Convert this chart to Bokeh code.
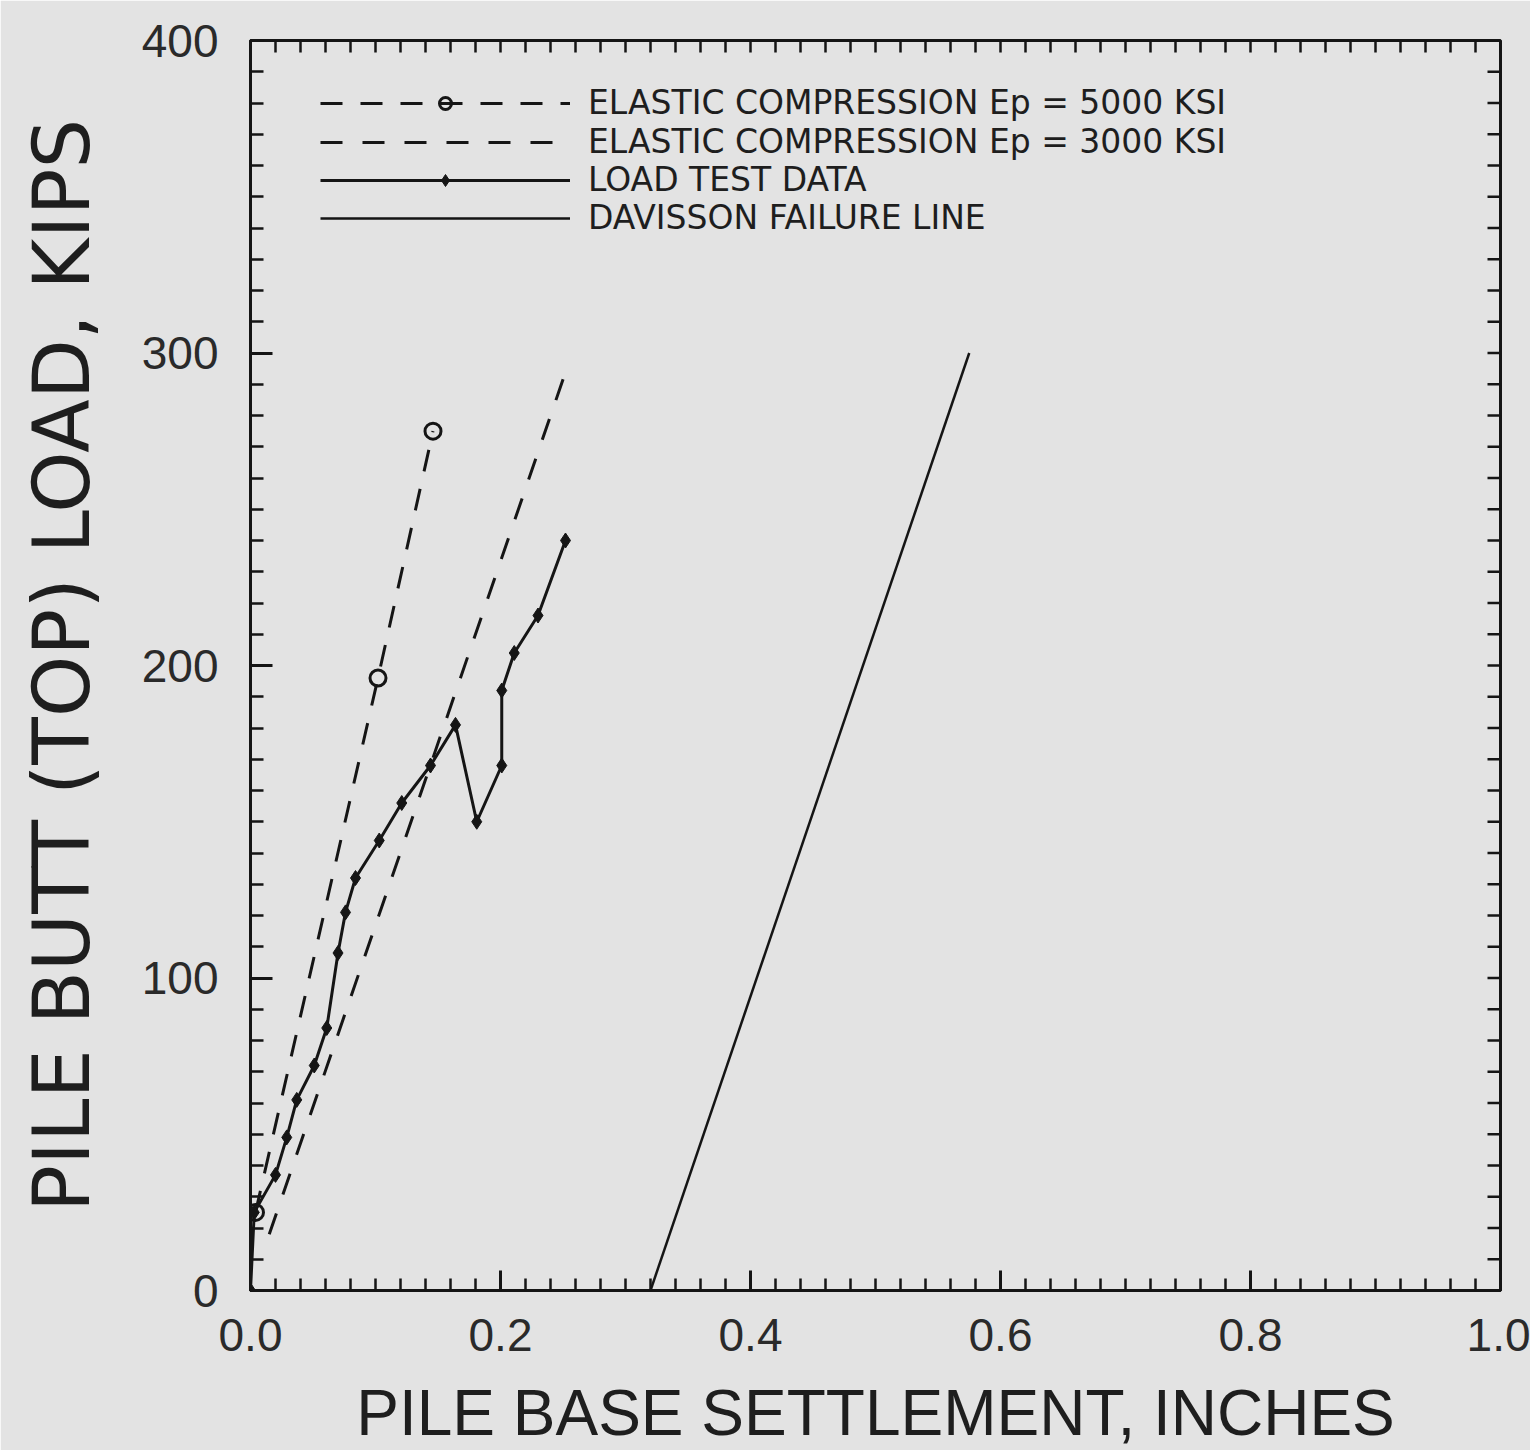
import math

from bokeh.plotting import figure
from bokeh.models import FixedTicker, NumeralTickFormatter, Legend, LegendItem, Range1d
from bokeh.embed import file_html
from bokeh.resources import INLINE

# Load test: pile base settlement (in) vs pile butt load (kips)
test_settlement = [0.0, 0.003, 0.020, 0.029, 0.037, 0.051, 0.061, 0.070, 0.076, 0.084,
                   0.103, 0.121, 0.144, 0.164, 0.181, 0.201, 0.201, 0.211, 0.230, 0.252]
test_load = [0, 25, 37, 49, 61, 72, 84, 108, 121, 132,
             144, 156, 168, 181, 150, 168, 192, 204, 216, 240]

# Elastic compression lines
ep5000_settlement = [0.004, 0.102, 0.146]
ep5000_load = [25, 196, 275]
ep3000_settlement = [0.015, 0.253]
ep3000_load = [18, 295]

# Davisson failure line
davisson_settlement = [0.32, 0.575]
davisson_load = [0, 300]

x_major = [0.0, 0.2, 0.4, 0.6, 0.8, 1.0]
x_minor = [round(i * 0.02, 2) for i in range(51)]
y_major = [0, 100, 200, 300, 400]
y_minor = list(range(0, 401, 10))

legend_labels = ["ELASTIC COMPRESSION Ep = 5000 KSI",
                 "ELASTIC COMPRESSION Ep = 3000 KSI",
                 "LOAD TEST DATA",
                 "DAVISSON FAILURE LINE"]

X_MIN, X_MAX = 0, 1
Y_MIN, Y_MAX = 0, 400

BG = "#e3e3e3"
INK = "#151515"
FONT = "Liberation Sans"
WIDE = "DejaVu Sans"

p = figure(frame_width=1250, frame_height=1250,
           x_range=Range1d(X_MIN, X_MAX), y_range=Range1d(Y_MIN, Y_MAX),
           output_backend="svg", toolbar_location=None,
           min_border_left=250, min_border_right=30,
           min_border_top=40, min_border_bottom=160,
           background_fill_color=BG, border_fill_color=BG)
p.grid.visible = False
p.outline_line_color = INK
p.outline_line_width = 3

xt = FixedTicker(ticks=x_major, minor_ticks=x_minor)
yt = FixedTicker(ticks=y_major, minor_ticks=y_minor)


def style_axis(ax, major_in, minor_in, standoff):
    ax.axis_line_color = INK
    ax.axis_line_width = 3
    ax.major_tick_line_color = INK
    ax.major_tick_line_width = 3
    ax.minor_tick_line_color = INK
    ax.minor_tick_line_width = 2.5
    ax.major_tick_in = major_in
    ax.major_tick_out = 0
    ax.minor_tick_in = minor_in
    ax.minor_tick_out = 0
    ax.major_label_text_font = FONT
    ax.major_label_text_font_size = "46px"
    ax.major_label_text_color = "#2a2a2a"
    ax.major_label_standoff = standoff
    ax.axis_label_text_font_style = "normal"
    ax.axis_label_text_color = "#1e1e1e"


xa = p.xaxis[0]
xa.ticker = xt
xa.formatter = NumeralTickFormatter(format="0.0")
style_axis(xa, 20, 12, 28)
xa.axis_label = "PILE BASE SETTLEMENT, INCHES"
xa.axis_label_text_font = FONT
xa.axis_label_text_font_size = "64px"
xa.axis_label_standoff = 23

ya = p.yaxis[0]
ya.ticker = yt
style_axis(ya, 22, 13, 32)
ya.axis_label = "PILE BUTT (TOP) LOAD, KIPS"
ya.axis_label_text_font = WIDE
ya.axis_label_text_font_size = "78px"
ya.axis_label_standoff = 32

# Inward tick marks along the top and right edges of the frame
p.ray(x=x_minor, y=[Y_MAX] * len(x_minor), length=12, length_units="screen",
      angle=-math.pi / 2, line_color=INK, line_width=2.5)
p.ray(x=[X_MAX] * len(y_minor), y=y_minor, length=13, length_units="screen",
      angle=math.pi, line_color=INK, line_width=2.5)

# Elastic compression, Ep = 5000 ksi
l5 = p.line(ep5000_settlement, ep5000_load, line_color=INK, line_width=3,
            line_dash="22 18")
c5 = p.scatter(ep5000_settlement, ep5000_load, marker="circle", size=16,
               fill_color=None, line_color=INK, line_width=3)

# Elastic compression, Ep = 3000 ksi
l3 = p.line(ep3000_settlement, ep3000_load, line_color=INK, line_width=3,
            line_dash="22 20")

# Load test data
lt = p.line(test_settlement, test_load, line_color=INK, line_width=3)
mt = p.scatter(test_settlement, test_load, marker="diamond", size=15,
               fill_color=INK, line_color=INK)

# Davisson failure line
ld = p.line(davisson_settlement, davisson_load, line_color=INK, line_width=2.5)

# One single-entry legend per row, so the rows can sit close together
legend_rows = [([l5, c5], 1168), ([l3], 1129), ([lt, mt], 1091), ([ld], 1053)]
for label, (renderers, y_offset) in zip(legend_labels, legend_rows):
    leg = Legend(items=[LegendItem(label=label, renderers=renderers)],
                 location=(70, y_offset))
    leg.glyph_width = 250
    leg.glyph_height = 30
    leg.label_height = 30
    leg.padding = 0
    leg.margin = 0
    leg.label_standoff = 18
    leg.label_text_font = WIDE
    leg.label_text_font_size = "33px"
    leg.label_text_color = "#1e1e1e"
    leg.background_fill_alpha = 0
    leg.border_line_alpha = 0
    p.add_layout(leg)

open("out.html", "w").write(file_html(p, INLINE))
